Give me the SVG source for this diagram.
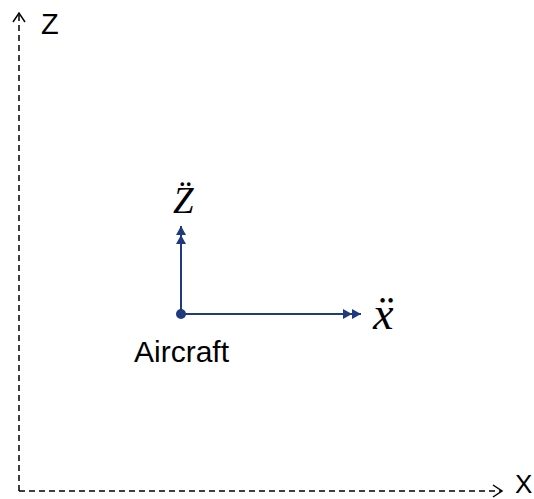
<svg xmlns="http://www.w3.org/2000/svg" width="534" height="499" viewBox="0 0 534 499">
  <style>
    .axis { fill: none; stroke: #000; stroke-width: 1.5; stroke-dasharray: 6 4; }
    .vec { fill: none; stroke: #1F3A80; stroke-width: 2; }
    .lbl { font-family: "Liberation Sans", Arial, sans-serif; fill: #000; }
    .math { font-family: "Liberation Serif", "Times New Roman", serif; font-style: italic; fill: #000; }
  </style>
  <defs>
    <marker id="open" markerUnits="userSpaceOnUse" markerWidth="14" markerHeight="14" refX="10" refY="6" orient="auto" overflow="visible">
      <path d="M1,0 L10,6 L1,12" fill="none" stroke="#000" stroke-width="1.5"/>
    </marker>
    <marker id="dbl" markerUnits="userSpaceOnUse" markerWidth="20" markerHeight="10" refX="18" refY="5" orient="auto" overflow="visible">
      <path d="M0,0 L9,5 L0,10 Z M9,0 L18,5 L9,10 Z" fill="#1F3A80"/>
    </marker>
  </defs>
  <g id="connectors">
    <path id="axis-z" class="axis" d="M19,491 L19,13" marker-end="url(#open)"/>
    <path id="axis-x" class="axis" d="M19,491 L502,491" marker-end="url(#open)"/>
    <path id="vec-z" class="vec" d="M181,314 L181,226" marker-end="url(#dbl)"/>
    <path id="vec-x" class="vec" d="M181,314 L361,314" marker-end="url(#dbl)"/>
  </g>
  <g id="node-z-label"><text class="lbl" x="41" y="34" font-size="29">Z</text></g>
  <g id="node-x-label"><text class="lbl" x="515" y="493" font-size="26">X</text></g>
  <g id="node-aircraft">
    <circle cx="181" cy="314" r="5" fill="#1F3A80"/>
    <text class="lbl" x="134" y="362" font-size="30">Aircraft</text>
  </g>
  <g id="node-zdd"><text class="math" x="173" y="213" font-size="37">Z̈</text></g>
  <g id="node-xdd"><text class="math" x="373" y="329" font-size="46">ẍ</text></g>
</svg>
